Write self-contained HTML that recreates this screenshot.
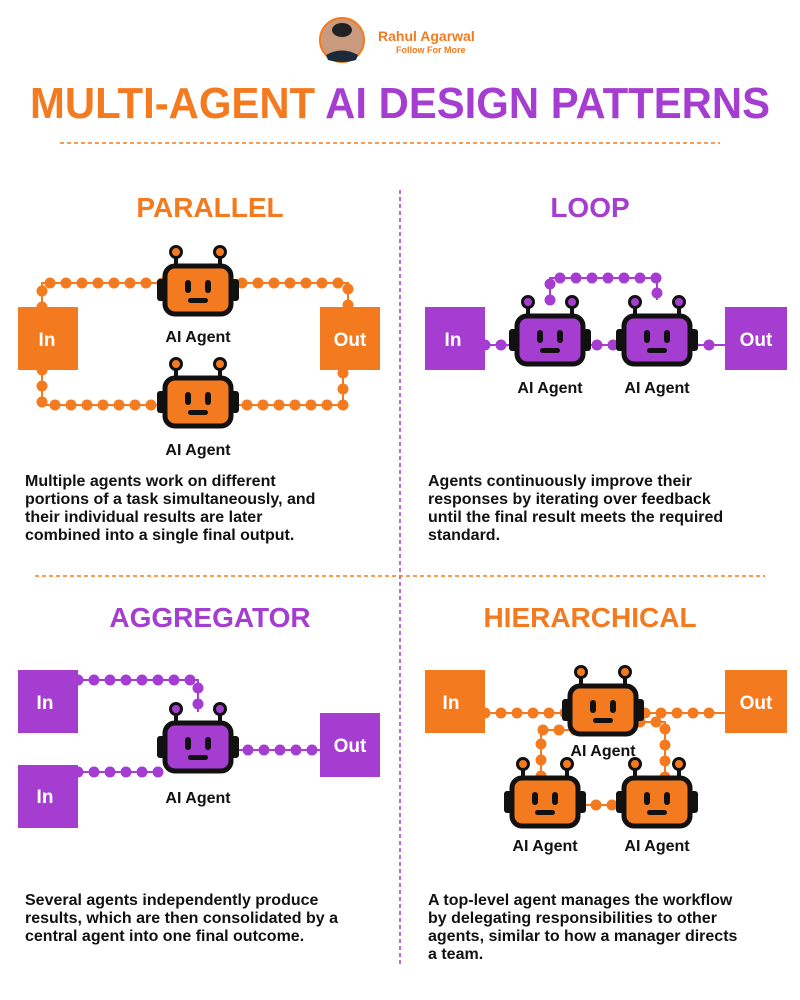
<!DOCTYPE html>
<html><head><meta charset="utf-8"><style>
html,body{margin:0;padding:0;background:#fff;}
svg{display:block;font-family:"Liberation Sans",sans-serif;}
</style></head><body>
<svg width="800" height="1000" viewBox="0 0 800 1000" xmlns="http://www.w3.org/2000/svg">
<defs>
<g id="ro">
 <line x1="-22" y1="-24" x2="-22" y2="-36" stroke="#111" stroke-width="4"/>
 <line x1="22" y1="-24" x2="22" y2="-36" stroke="#111" stroke-width="4"/>
 <circle cx="-22" cy="-38" r="5.5" fill="#f47a20" stroke="#111" stroke-width="3"/>
 <circle cx="22" cy="-38" r="5.5" fill="#f47a20" stroke="#111" stroke-width="3"/>
 <rect x="-41" y="-11" width="9" height="22" rx="3" fill="#111"/>
 <rect x="32" y="-11" width="9" height="22" rx="3" fill="#111"/>
 <rect x="-33" y="-24" width="66" height="48" rx="10" fill="#f47a20" stroke="#111" stroke-width="5"/>
 <rect x="-13" y="-10" width="6" height="13" rx="3" fill="#111"/>
 <rect x="7" y="-10" width="6" height="13" rx="3" fill="#111"/>
 <rect x="-10" y="8" width="20" height="5" rx="2.5" fill="#111"/>
</g>
<g id="rp">
 <line x1="-22" y1="-24" x2="-22" y2="-36" stroke="#111" stroke-width="4"/>
 <line x1="22" y1="-24" x2="22" y2="-36" stroke="#111" stroke-width="4"/>
 <circle cx="-22" cy="-38" r="5.5" fill="#a63dd1" stroke="#111" stroke-width="3"/>
 <circle cx="22" cy="-38" r="5.5" fill="#a63dd1" stroke="#111" stroke-width="3"/>
 <rect x="-41" y="-11" width="9" height="22" rx="3" fill="#111"/>
 <rect x="32" y="-11" width="9" height="22" rx="3" fill="#111"/>
 <rect x="-33" y="-24" width="66" height="48" rx="10" fill="#a63dd1" stroke="#111" stroke-width="5"/>
 <rect x="-13" y="-10" width="6" height="13" rx="3" fill="#111"/>
 <rect x="7" y="-10" width="6" height="13" rx="3" fill="#111"/>
 <rect x="-10" y="8" width="20" height="5" rx="2.5" fill="#111"/>
</g>
</defs>

<!-- header -->
<circle cx="342" cy="40" r="22" fill="#c99a7e" stroke="#f47a20" stroke-width="2"/>
<path d="M326 55 Q342 46 358 55 L356 60 Q342 64 328 60Z" fill="#1c2a3a"/>
<ellipse cx="342" cy="30" rx="10" ry="7" fill="#222"/>
<text x="378" y="41" font-size="14" font-weight="bold" fill="#f47a20">Rahul Agarwal</text>
<text x="396" y="53" font-size="9" font-weight="bold" fill="#f47a20">Follow For More</text>

<text x="30" y="118" font-size="44" font-weight="bold" textLength="740" lengthAdjust="spacingAndGlyphs"><tspan fill="#f47a20">MULTI-AGENT </tspan><tspan fill="#a63dd1">AI DESIGN PATTERNS</tspan></text>
<line x1="60" y1="143" x2="720" y2="143" stroke="#f47a20" stroke-width="1.5" stroke-dasharray="4 3"/>
<line x1="400" y1="190" x2="400" y2="965" stroke="#a63dd1" stroke-width="1.5" stroke-dasharray="4 3"/>
<line x1="35" y1="576" x2="765" y2="576" stroke="#f47a20" stroke-width="1.5" stroke-dasharray="4 3"/>

<g font-size="28" font-weight="bold" text-anchor="middle">
<text x="210" y="217" fill="#f47a20">PARALLEL</text>
<text x="590" y="217" fill="#a63dd1">LOOP</text>
<text x="210" y="627" fill="#a63dd1">AGGREGATOR</text>
<text x="590" y="627" fill="#f47a20">HIERARCHICAL</text>
</g>

<!-- PARALLEL -->
<g fill="none" stroke="#f47a20">
<path d="M42 307 V283 H348 V307" stroke-width="2"/>
<path d="M42 307 V283 H348 V307" stroke-width="11" stroke-linecap="round" stroke-dasharray="0 16"/>
<path d="M42 370 V405 H343 V370" stroke-width="2"/>
<path d="M42 370 V405 H343 V370" stroke-width="11" stroke-linecap="round" stroke-dasharray="0 16"/>
</g>
<rect x="18" y="307" width="60" height="63" fill="#f47a20"/>
<rect x="320" y="307" width="60" height="63" fill="#f47a20"/>
<use href="#ro" x="198" y="290"/>
<use href="#ro" x="198" y="402"/>

<!-- LOOP -->
<g fill="none" stroke="#a63dd1">
<path d="M485 345 H725" stroke-width="2"/>
<path d="M485 345 H725" stroke-width="11" stroke-linecap="round" stroke-dasharray="0 16"/>
<path d="M550 300 V278 H657 V300" stroke-width="2"/>
<path d="M550 300 V278 H657 V300" stroke-width="11" stroke-linecap="round" stroke-dasharray="0 16"/>
</g>
<rect x="425" y="307" width="60" height="63" fill="#a63dd1"/>
<rect x="725" y="307" width="62" height="63" fill="#a63dd1"/>
<use href="#rp" x="550" y="340"/>
<use href="#rp" x="657" y="340"/>

<!-- AGGREGATOR -->
<g fill="none" stroke="#a63dd1">
<path d="M78 680 H198 V712" stroke-width="2"/>
<path d="M78 680 H198 V712" stroke-width="11" stroke-linecap="round" stroke-dasharray="0 16"/>
<path d="M78 772 H160" stroke-width="2"/>
<path d="M78 772 H160" stroke-width="11" stroke-linecap="round" stroke-dasharray="0 16"/>
<path d="M232 750 H320" stroke-width="2"/>
<path d="M232 750 H320" stroke-width="11" stroke-linecap="round" stroke-dasharray="0 16"/>
</g>
<rect x="18" y="670" width="60" height="63" fill="#a63dd1"/>
<rect x="18" y="765" width="60" height="63" fill="#a63dd1"/>
<rect x="320" y="713" width="60" height="64" fill="#a63dd1"/>
<use href="#rp" x="198" y="747"/>

<!-- HIERARCHICAL -->
<g fill="none" stroke="#f47a20">
<path d="M485 713 H725" stroke-width="2"/>
<path d="M485 713 H725" stroke-width="11" stroke-linecap="round" stroke-dasharray="0 16"/>
<path d="M575 730 H541 V778" stroke-width="2"/>
<path d="M575 730 H541 V778" stroke-width="11" stroke-linecap="round" stroke-dasharray="0 16"/>
<path d="M640 722 H665 V778" stroke-width="2"/>
<path d="M640 722 H665 V778" stroke-width="11" stroke-linecap="round" stroke-dasharray="0 16"/>
<path d="M580 805 H620" stroke-width="2"/>
<path d="M580 805 H620" stroke-width="11" stroke-linecap="round" stroke-dasharray="0 16"/>
</g>
<rect x="425" y="670" width="60" height="63" fill="#f47a20"/>
<rect x="725" y="670" width="62" height="63" fill="#f47a20"/>
<use href="#ro" x="603" y="710"/>
<use href="#ro" x="545" y="802"/>
<use href="#ro" x="657" y="802"/>

<!-- box labels -->
<g fill="#fff" font-size="19" font-weight="bold" text-anchor="middle">
<text x="47" y="346">In</text><text x="350" y="346">Out</text>
<text x="453" y="346">In</text><text x="756" y="346">Out</text>
<text x="45" y="709">In</text><text x="45" y="803">In</text><text x="350" y="752">Out</text>
<text x="451" y="709">In</text><text x="756" y="709">Out</text>
</g>
<g fill="#111" font-size="16" font-weight="bold" text-anchor="middle">
<text x="198" y="342">AI Agent</text>
<text x="198" y="455">AI Agent</text>
<text x="550" y="393">AI Agent</text>
<text x="657" y="393">AI Agent</text>
<text x="198" y="803">AI Agent</text>
<text x="603" y="756">AI Agent</text>
<text x="545" y="851">AI Agent</text>
<text x="657" y="851">AI Agent</text>
</g>

<g fill="#111" font-size="16" font-weight="bold">
<text x="25" y="486">Multiple agents work on different</text>
<text x="25" y="504">portions of a task simultaneously, and</text>
<text x="25" y="522">their individual results are later</text>
<text x="25" y="540">combined into a single final output.</text>
<text x="428" y="486">Agents continuously improve their</text>
<text x="428" y="504">responses by iterating over feedback</text>
<text x="428" y="522">until the final result meets the required</text>
<text x="428" y="540">standard.</text>
<text x="25" y="905">Several agents independently produce</text>
<text x="25" y="923">results, which are then consolidated by a</text>
<text x="25" y="941">central agent into one final outcome.</text>
<text x="428" y="905">A top-level agent manages the workflow</text>
<text x="428" y="923">by delegating responsibilities to other</text>
<text x="428" y="941">agents, similar to how a manager directs</text>
<text x="428" y="959">a team.</text>
</g>
</svg>
</body></html>
